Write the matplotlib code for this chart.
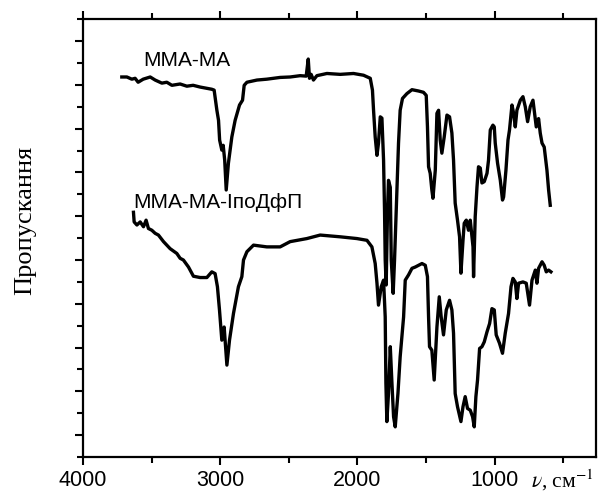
import matplotlib

matplotlib.use('Agg')
import matplotlib.pyplot as plt
import matplotlib.ticker as mticker
import numpy as np

# ── Data (wavenumber, cm-1 / transmittance, arb. units) ─────────────────────
mma_ma_nu = [
    3718, 3681, 3645, 3621, 3599, 3562, 3511, 3475, 3426, 3390, 3353, 3293,
    3244, 3198, 3147, 3098, 3062, 3045, 3025, 3013, 3005, 2989, 2979, 2968,
    2957, 2941, 2916, 2892, 2860, 2838, 2826, 2806, 2733, 2661, 2564, 2491,
    2418, 2374, 2359, 2350, 2338, 2321, 2296, 2223, 2126, 2029, 1956, 1907,
    1891, 1883, 1871, 1858, 1847, 1834, 1822, 1810, 1803, 1798, 1791, 1781,
    1774, 1761, 1754, 1740, 1730, 1713, 1701, 1689, 1672, 1640, 1603, 1555,
    1519, 1499, 1490, 1482, 1470, 1458, 1450, 1433, 1421, 1409, 1397, 1385,
    1368, 1348, 1329, 1312, 1300, 1288, 1271, 1256, 1246, 1231, 1222, 1207,
    1191, 1178, 1158, 1154, 1142, 1129, 1118, 1105, 1093, 1076, 1056, 1045,
    1032, 1013, 1003, 996, 979, 959, 943, 935, 918, 903, 892, 874, 862, 850,
    838, 813, 794, 777, 760, 741, 721, 709, 697, 680, 668, 655, 639, 619,
    607, 595,
]
mma_ma_t = [
    86.8, 86.8, 86.3, 86.5, 85.6, 86.3, 86.8, 86.1, 85.4, 85.6, 84.9, 85.2,
    84.7, 84.9, 84.5, 84.2, 84.0, 83.8, 79.2, 76.9, 72.4, 70.1, 71.2, 67.8,
    61.0, 67.1, 73.1, 76.9, 80.4, 81.5, 84.9, 85.6, 86.1, 86.3, 86.7, 86.8,
    87.1, 87.0, 90.9, 86.5, 87.4, 86.1, 87.1, 87.6, 87.4, 87.6, 87.2, 86.5,
    83.8, 79.2, 73.1, 68.9, 71.7, 77.7, 77.4, 67.8, 56.4, 45.0, 39.3, 56.4,
    63.2, 61.6, 45.0, 37.4, 45.0, 60.3, 71.7, 79.2, 81.9, 83.0, 83.9, 83.6,
    83.3, 82.6, 75.4, 66.3, 64.8, 61.0, 59.1, 65.5, 78.5, 79.2, 72.4, 69.4,
    73.1, 78.1, 77.7, 74.0, 67.8, 58.0, 54.1, 50.3, 42.0, 49.5, 53.4, 54.1,
    51.8, 54.1, 48.0, 41.2, 54.9, 61.7, 66.3, 66.0, 62.6, 62.9, 64.8, 67.8,
    74.7, 75.8, 75.4, 71.7, 67.1, 63.2, 58.7, 59.4, 65.5, 72.4, 74.7, 80.4,
    78.5, 75.4, 79.2, 81.5, 82.3, 80.0, 76.6, 80.0, 81.5, 78.5, 75.4, 77.3,
    74.0, 71.7, 70.8, 65.5, 61.0, 57.5,
]

composite_nu = [
    3633, 3628, 3608, 3584, 3560, 3541, 3524, 3499, 3475, 3451, 3414, 3366,
    3317, 3293, 3269, 3232, 3196, 3147, 3098, 3062, 3038, 3021, 3006, 2989,
    2972, 2952, 2933, 2904, 2868, 2843, 2831, 2806, 2758, 2661, 2564, 2491,
    2369, 2272, 2126, 2004, 1931, 1895, 1871, 1858, 1847, 1827, 1810, 1798,
    1793, 1786, 1774, 1761, 1749, 1737, 1725, 1705, 1689, 1664, 1652, 1628,
    1603, 1579, 1530, 1506, 1490, 1482, 1475, 1458, 1441, 1421, 1404, 1390,
    1373, 1353, 1329, 1312, 1300, 1288, 1271, 1246, 1231, 1215, 1198, 1178,
    1161, 1149, 1137, 1125, 1110, 1093, 1076, 1056, 1037, 1020, 1003, 989,
    965, 943, 923, 899, 881, 867, 850, 838, 826, 794, 770, 746, 728, 704,
    692, 680, 655, 639, 624, 607, 590,
]
composite_t = [
    55.9, 53.7, 53.0, 53.7, 52.6, 54.1, 52.2, 51.8, 51.1, 50.7, 49.2, 47.6,
    46.5, 45.4, 45.0, 43.4, 41.3, 41.0, 41.0, 42.3, 41.9, 38.9, 33.6, 26.7,
    29.7, 21.0, 26.7, 32.8, 38.9, 41.2, 45.0, 46.9, 48.4, 48.0, 48.0, 49.2,
    49.9, 50.7, 50.3, 49.9, 49.5, 48.0, 44.2, 39.7, 34.7, 38.9, 40.4, 32.0,
    16.9, 8.1, 14.6, 25.2, 16.9, 9.2, 6.9, 14.6, 22.9, 32.0, 40.4, 41.6,
    43.1, 43.4, 44.2, 43.8, 41.2, 32.0, 25.2, 24.4, 17.6, 29.7, 36.6, 32.0,
    27.9, 33.6, 35.8, 33.6, 28.3, 14.5, 11.5, 8.1, 11.5, 13.8, 11.1, 10.7,
    9.2, 6.9, 13.8, 17.6, 24.8, 25.2, 26.3, 28.6, 30.5, 33.9, 33.6, 27.9,
    26.0, 23.7, 28.3, 32.8, 38.9, 40.8, 40.0, 36.2, 39.7, 40.0, 39.7, 34.7,
    40.4, 42.7, 39.7, 43.1, 44.6, 43.8, 42.3, 42.7, 42.3,
]

x_major = [4000, 3000, 2000, 1000]
x_minor = [3500, 2500, 1500, 500]
y_major = np.arange(5, 100, 10)
y_minor = np.arange(0, 101, 10)

# ── Figure ──────────────────────────────────────────────────────────────────
plt.rcParams['mathtext.fontset'] = 'stix'
fig = plt.figure(figsize=(5.98, 4.92), dpi=100)
ax = fig.add_axes([0.139, 0.071, 0.858, 0.890])

ax.plot(mma_ma_nu, mma_ma_t, color='black', linewidth=2.4, solid_joinstyle='round')
ax.plot(composite_nu, composite_t, color='black', linewidth=2.4, solid_joinstyle='round')

ax.text(3565, 89.3, 'ММА-МА', fontsize=15, family='Liberation Sans',
        ha='left', va='baseline')
ax.text(3635, 56.8, 'ММА-МА-ІпоДфП', fontsize=15, family='Liberation Sans',
        ha='left', va='baseline')

ax.set_xlim(4000, 260)
ax.set_ylim(0, 100)

ax.xaxis.set_major_locator(mticker.FixedLocator(x_major))
ax.xaxis.set_minor_locator(mticker.FixedLocator(x_minor))
ax.yaxis.set_major_locator(mticker.FixedLocator(y_major))
ax.yaxis.set_minor_locator(mticker.FixedLocator(y_minor))
ax.set_yticklabels([])

ax.tick_params(axis='x', which='both', direction='out', top=True, bottom=True,
               labeltop=False, width=1.5)
ax.tick_params(axis='y', which='both', direction='out', left=True, right=False,
               width=1.5)
ax.tick_params(which='major', length=6)
ax.tick_params(which='minor', length=4)
ax.tick_params(axis='x', which='major', labelsize=15.5, pad=3)
for lbl in ax.get_xticklabels():
    lbl.set_family('Liberation Sans')

for spine in ax.spines.values():
    spine.set_linewidth(1.6)

fig.text(25 / 598, 1 - 220 / 492, 'Пропускання', rotation=90, fontsize=19,
         family='Liberation Serif', ha='center', va='center')
fig.text(594 / 598, 4 / 492, r'$\nu$, см$^{-1}$', fontsize=15.5,
         family='Liberation Serif', ha='right', va='baseline')

fig.savefig('out.png', dpi=100)
